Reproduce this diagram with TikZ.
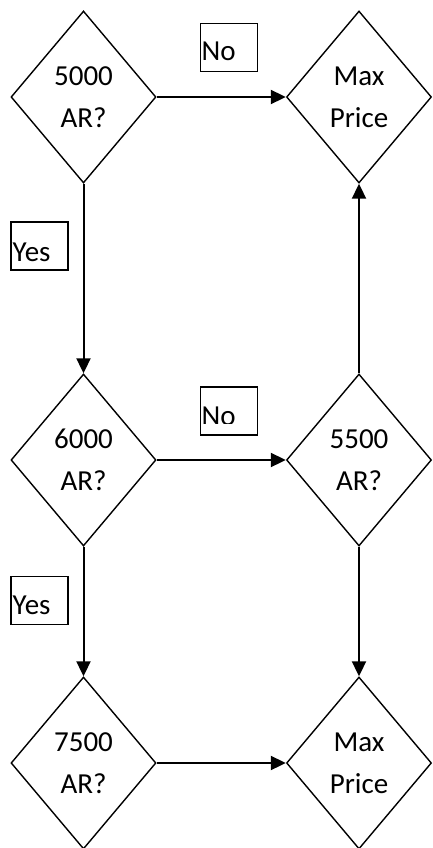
\documentclass[tikz,border=0pt]{standalone}
\usepackage{fontspec}
\setmainfont{Carlito}
\usetikzlibrary{shapes.geometric,arrows.meta}
\begin{document}
\begin{tikzpicture}[x=1pt,y=-1pt,
  dec/.style={diamond, draw, line width=1.4pt, inner sep=0pt, minimum width=145pt, minimum height=172pt, aspect=0.84, align=center, font=\fontsize{29}{42}\selectfont},
  lbl/.style={draw, line width=1.4pt, minimum width=57pt, minimum height=48pt, inner sep=0pt},
  lbltext/.style={anchor=base west, inner sep=0pt, font=\fontsize{29}{32}\selectfont},
  arr/.style={line width=2pt, -{Triangle[length=15pt,width=14pt]}}
]
\useasboundingbox (0,0) rectangle (432,848);
% decision nodes
\node[dec] (d1) at (83.5,97) {5000\\AR?};
\node[dec] (d2) at (359,97) {Max\\Price};
\node[dec] (d3) at (83.5,460) {6000\\AR?};
\node[dec] (d4) at (359,460) {5500\\AR?};
\node[dec] (d5) at (83.5,763) {7500\\AR?};
\node[dec] (d6) at (359,763) {Max\\Price};
% label boxes
\node[lbl] (nobox1) at (229,47.5) {};
\node[lbltext] (notext1) at (201.5,61) {No};
\node[lbl] (yesbox1) at (39.5,246) {};
\node[lbltext] (yestext1) at (12.5,261) {Yes};
\node[lbl] (nobox2) at (229,411) {};
\begin{scope}
\clip (200,387) rectangle (258,423);
\node[lbltext] (notext2) at (201.5,425) {No};
\end{scope}
\node[lbl] (yesbox2) at (39.5,600.5) {};
\node[lbltext] (yestext2) at (12.5,614) {Yes};
% connectors
\draw[arr] (d1.east) -- (d2.west);
\draw[arr] (d1.south) -- (d3.north);
\draw[arr] (d4.north) -- (d2.south);
\draw[arr] (d3.east) -- (d4.west);
\draw[arr] (d3.south) -- (d5.north);
\draw[arr] (d4.south) -- (d6.north);
\draw[arr] (d5.east) -- (d6.west);
\end{tikzpicture}
\end{document}
